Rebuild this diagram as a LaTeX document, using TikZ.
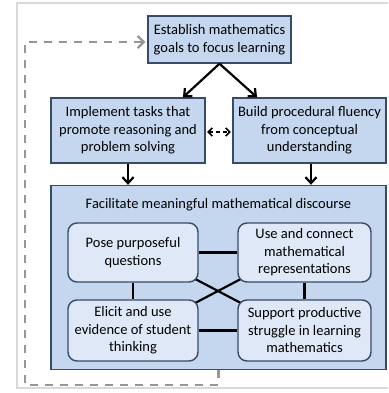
\documentclass[tikz,border=0pt]{standalone}
\usepackage{fontspec}
\setmainfont{Carlito}
\usetikzlibrary{calc,arrows.meta,backgrounds}

\definecolor{boxblue}{RGB}{196,215,239}
\definecolor{innerblue}{RGB}{222,232,246}
\definecolor{edgeblue}{RGB}{55,74,104}
\definecolor{loopgray}{RGB}{150,150,150}

\tikzset{
  practice/.style = {draw=edgeblue, line width=1.4pt, fill=boxblue, align=center, inner sep=0pt},
  habit/.style = {practice, fill=innerblue, rounded corners=9pt},
  flow/.style = {draw, line width=2.2pt, -{Straight Barb[length=6pt,width=11pt]}},
  link/.style = {draw, line width=2.2pt},
}

\begin{document}
\begin{tikzpicture}[x=1pt, y=-1pt, font=\fontsize{14.5}{17.5}\selectfont]
        \useasboundingbox (0,0) rectangle (388,393);
        % page edge
        \path[draw, black!15, line width=1.5pt] (388,3) -- (17,3) -- (17,388) -- (388,388);
        % top boxes
        \node[practice, minimum width=143, minimum height=47] (goals) at (219.5,39.5) {Establish mathematics\\goals to focus learning};
        \node[practice, minimum width=154, minimum height=65] (tasks) at (128,130.5) {Implement tasks that\\promote reasoning and\\problem solving};
        \node[practice, minimum width=153, minimum height=65] (fluency) at (309.5,130.5) {Build procedural fluency\\from conceptual\\understanding};
        % discourse title and inner boxes
        \node (title) at (218.5,205) {Facilitate meaningful mathematical discourse};
        \node[habit, minimum width=130, minimum height=59] (pose) at (133,252.5) {Pose purposeful\\questions};
        \node[habit, minimum width=133, minimum height=59] (repr) at (304.5,252.5) {Use and connect\\mathematical\\representations};
        \node[habit, minimum width=130, minimum height=61] (elicit) at (133,330.5) {Elicit and use\\evidence of student\\thinking};
        \node[habit, minimum width=133, minimum height=61] (struggle) at (304.5,330.5) {Support productive\\struggle in learning\\mathematics};
        % big box and the cross behind the inner boxes
        \begin{scope}[on background layer]
            \node[practice, minimum width=335, minimum height=184] (discourse) at (218.5,277.5) {};
            \path[link] ($(pose.south east)+(-6,-5)$) to ($(struggle.north west)+(6,5)$);
            \path[link] ($(elicit.north east)+(-6,5)$) to ($(repr.south west)+(6,-5)$);
        \end{scope}
        % arrows
        \path[flow] (goals.south) to ($(tasks.north)+(55,0)$);
        \path[flow] (goals.south) to ($(fluency.north)+(-52.5,0)$);
        \path[draw, line width=1.5pt, dash pattern=on 4pt off 3pt, {Straight Barb[length=4pt,width=8pt]}-{Straight Barb[length=4pt,width=8pt]}]
            ($(tasks.east)+(1.5,1.5)$) to ($(fluency.west)+(-1.5,1.5)$);
        \path[flow] (tasks.south) to (tasks.south |- discourse.north);
        \path[flow] ($(fluency.south)+(1.5,0)$) to ($(fluency.south |- discourse.north)+(1.5,0)$);
        % links between inner boxes
        \path[link] (pose) to (repr);
        \path[link] (elicit) to (struggle);
        \path[link] (pose) to (elicit);
        \path[link] (repr) to (struggle);
        % feedback loop
        \coordinate (corner) at (25,385);
        \path[draw, loopgray, line width=2.2pt, dash pattern=on 8pt off 7pt, -{Straight Barb[length=6pt,width=12pt]}]
            (discourse.south) |- (corner) |- ($(goals.west)+(-2,2.5)$);
    \end{tikzpicture}
\end{document}
